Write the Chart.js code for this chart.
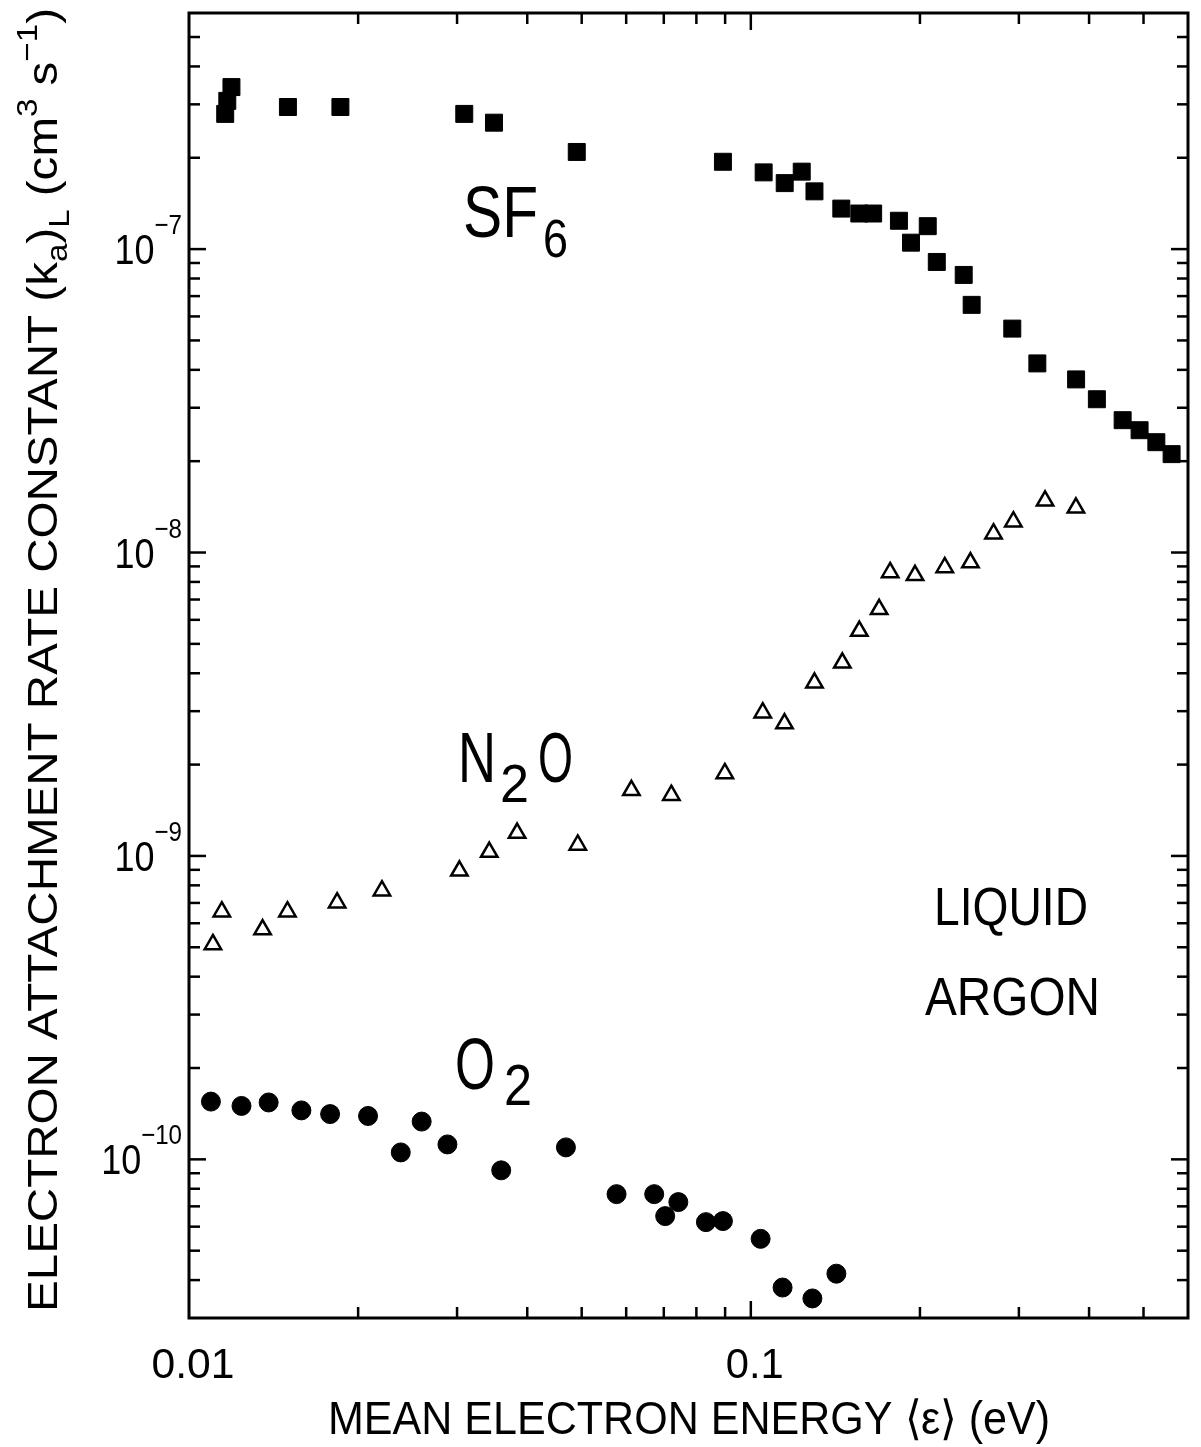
<!DOCTYPE html>
<html>
<head>
<meta charset="utf-8">
<script src="https://cdn.jsdelivr.net/npm/chart.js@4.4.1/dist/chart.umd.min.js"></script>
<style>
  html, body { margin: 0; padding: 0; background: #fff; }
  canvas { display: block; }
</style>
</head>
<body>
<canvas id="chart" width="1201" height="1447"></canvas>
<script>
// mean electron energy (eV) / attachment rate constant (cm3 s-1)
const sf6X = [0.0116, 0.0117, 0.0119, 0.0150, 0.0186, 0.0309, 0.0349, 0.0490, 0.0892, 0.1054,
              0.1149, 0.1232, 0.1298, 0.1449, 0.1560, 0.1651, 0.1835, 0.2065, 0.1928, 0.2143,
              0.2393, 0.2472, 0.292, 0.3236, 0.3793, 0.413, 0.459, 0.492, 0.527, 0.561];
const sf6Y = [2.79e-7, 3.08e-7, 3.42e-7, 2.94e-7, 2.94e-7, 2.79e-7, 2.61e-7, 2.09e-7, 1.94e-7, 1.79e-7,
              1.65e-7, 1.80e-7, 1.55e-7, 1.36e-7, 1.31e-7, 1.31e-7, 1.24e-7, 1.19e-7, 1.05e-7, 9.07e-8,
              8.22e-8, 6.55e-8, 5.47e-8, 4.20e-8, 3.72e-8, 3.20e-8, 2.73e-8, 2.53e-8, 2.31e-8, 2.11e-8];

const n2oX = [0.01103, 0.01144, 0.01352, 0.01497, 0.01835, 0.02205, 0.03029, 0.03423, 0.03837, 0.0492,
              0.0613, 0.0722, 0.0899, 0.1050, 0.1148, 0.1298, 0.1455, 0.1560, 0.1692, 0.1770,
              0.196, 0.2214, 0.246, 0.2704, 0.2933, 0.334, 0.379];
const n2oY = [5.11e-10, 6.55e-10, 5.72e-10, 6.55e-10, 7.01e-10, 7.68e-10, 8.93e-10, 1.03e-9, 1.19e-9, 1.087e-9,
              1.646e-9, 1.585e-9, 1.871e-9, 2.965e-9, 2.73e-9, 3.72e-9, 4.33e-9, 5.51e-9, 6.50e-9, 8.60e-9,
              8.41e-9, 8.93e-9, 9.27e-9, 1.154e-8, 1.264e-8, 1.48e-8, 1.404e-8];

const o2X = [0.01094, 0.0124, 0.01386, 0.01585, 0.01783, 0.02083, 0.02382, 0.02595, 0.02884, 0.03595,
             0.04687, 0.05768, 0.0673, 0.0743, 0.0704, 0.0832, 0.0892, 0.1041, 0.1139, 0.1287, 0.1420];
const o2Y = [1.55e-10, 1.50e-10, 1.54e-10, 1.45e-10, 1.41e-10, 1.39e-10, 1.054e-10, 1.332e-10, 1.12e-10, 9.2e-11,
             1.095e-10, 7.68e-11, 7.68e-11, 7.23e-11, 6.50e-11, 6.21e-11, 6.26e-11, 5.47e-11, 3.78e-11, 3.48e-11, 4.20e-11];

const xTickVals = [0.01, 0.1];
const xTickLabels = ['0.01', '0.1'];
const yTickExps = [-7, -8, -9, -10];

const FONT = '"Liberation Sans", Arial, sans-serif';
const pts = (xs, ys) => xs.map((x, i) => ({ x: x, y: ys[i] }));

// draw a string squeezed to a given width, left edge at x, baseline at y
const drawFit = (ctx, text, size, x, y, width) => {
    ctx.font = size + 'px ' + FONT;
    const k = width / ctx.measureText(text).width;
    ctx.save();
    ctx.translate(x, y);
    ctx.scale(k, 1);
    ctx.fillText(text, 0, 0);
    ctx.restore();
};

const decorations = {
    id: 'decorations',
    afterDatasetsDraw(chart) {
        const ctx = chart.ctx;
        const a = chart.chartArea;
        const xs = chart.scales.x, ys = chart.scales.y;
        ctx.save();
        ctx.fillStyle = '#000';
        ctx.strokeStyle = '#000';
        ctx.textBaseline = 'alphabetic';
        ctx.textAlign = 'left';

        // frame
        ctx.lineWidth = 3;
        ctx.strokeRect(a.left, a.top, a.right - a.left, a.bottom - a.top);

        // inward ticks on all four sides
        ctx.lineWidth = 2.5;
        const tick = (x1, y1, x2, y2) => { ctx.beginPath(); ctx.moveTo(x1, y1); ctx.lineTo(x2, y2); ctx.stroke(); };
        for (let d = -2; d <= -1; d++) {
            for (let m = 1; m <= 9; m++) {
                const v = m * Math.pow(10, d);
                if (v <= xs.min * 1.001 || v >= xs.max * 0.999) continue;
                const px = xs.getPixelForValue(v);
                const len = m === 1 ? 17 : 11;
                tick(px, a.bottom, px, a.bottom - len);
                tick(px, a.top, px, a.top + len);
            }
        }
        for (let d = -11; d <= -7; d++) {
            for (let m = 1; m <= 9; m++) {
                const v = m * Math.pow(10, d);
                if (v <= ys.min * 1.001 || v >= ys.max * 0.999) continue;
                const py = ys.getPixelForValue(v);
                const len = m === 1 ? 17 : 11;
                tick(a.left, py, a.left + len, py);
                tick(a.right, py, a.right - len, py);
            }
        }

        // x tick labels
        xTickVals.forEach((v, i) => {
            const w = xTickLabels[i].length === 4 ? 83 : 58;
            const cx = xs.getPixelForValue(v) + 4;
            drawFit(ctx, xTickLabels[i], 42, cx - w / 2, a.bottom + 60, w);
        });

        // y tick labels 10^n
        yTickExps.forEach(e => {
            const py = ys.getPixelForValue(Math.pow(10, e));
            const sup = '\u2212' + Math.abs(e);
            ctx.font = '28px ' + FONT;
            const supW = ctx.measureText(sup).width * 0.86;
            const supLeft = 182 - supW;
            drawFit(ctx, sup, 28, supLeft, py - 15, supW);
            drawFit(ctx, '10', 42, supLeft - 40, py + 15, 40);
        });

        // x axis title
        drawFit(ctx, 'MEAN ELECTRON ENERGY \u27E8\u03B5\u27E9 (eV)', 47, 328, 1434, 722);

        // y axis title, rotated
        const runs = [
            { t: 'ELECTRON ATTACHMENT RATE CONSTANT (k', s: 43, dy: 0 },
            { t: 'a', s: 30, dy: 10 },
            { t: ')', s: 43, dy: 0 },
            { t: 'L', s: 30, dy: 12 },
            { t: ' (cm', s: 43, dy: 0 },
            { t: '3', s: 30, dy: -20 },
            { t: ' s', s: 43, dy: 0 },
            { t: '\u22121', s: 30, dy: -20 },
            { t: ')', s: 43, dy: 0 }
        ];
        let nat = 0;
        runs.forEach(r => { ctx.font = r.s + 'px ' + FONT; nat += ctx.measureText(r.t).width; });
        ctx.save();
        ctx.translate(57, 1312);
        ctx.rotate(-Math.PI / 2);
        ctx.scale(1304 / nat, 1);
        let cx = 0;
        runs.forEach(r => {
            ctx.font = r.s + 'px ' + FONT;
            ctx.fillText(r.t, cx, r.dy);
            cx += ctx.measureText(r.t).width;
        });
        ctx.restore();

        // series labels
        drawFit(ctx, 'SF', 72, 463, 237, 75);
        drawFit(ctx, '6', 54, 543, 257, 25);
        drawFit(ctx, 'N', 70, 458, 782, 38);
        drawFit(ctx, '2', 54, 500, 802, 29);
        drawFit(ctx, 'O', 70, 538, 782, 35);
        drawFit(ctx, 'O', 72, 455, 1089, 40);
        drawFit(ctx, '2', 58, 504, 1105, 28);
        drawFit(ctx, 'LIQUID', 53, 934, 925, 154);
        drawFit(ctx, 'ARGON', 53, 925, 1015, 175);

        ctx.restore();
    }
};

new Chart(document.getElementById('chart').getContext('2d'), {
    type: 'scatter',
    data: {
        datasets: [
            {
                label: 'SF6', data: pts(sf6X, sf6Y),
                pointStyle: 'rect', pointRadius: 12,
                backgroundColor: '#000', borderColor: '#000', borderWidth: 1, clip: false
            },
            {
                label: 'N2O', data: pts(n2oX, n2oY),
                pointStyle: 'triangle', pointRadius: 9.5,
                backgroundColor: '#fff', borderColor: '#000', borderWidth: 2.5, clip: false
            },
            {
                label: 'O2', data: pts(o2X, o2Y),
                pointStyle: 'circle', pointRadius: 9.5,
                backgroundColor: '#000', borderColor: '#000', borderWidth: 1, clip: false
            }
        ]
    },
    options: {
        responsive: false,
        animation: false,
        devicePixelRatio: 1,
        events: [],
        layout: { padding: { left: 189, right: 8, top: 11, bottom: 129 } },
        plugins: { legend: { display: false }, tooltip: { enabled: false } },
        scales: {
            x: { type: 'logarithmic', min: 0.01, max: 0.6, display: false },
            y: { type: 'logarithmic', min: 3e-11, max: 6e-7, display: false }
        }
    },
    plugins: [decorations]
});
</script>
</body>
</html>
